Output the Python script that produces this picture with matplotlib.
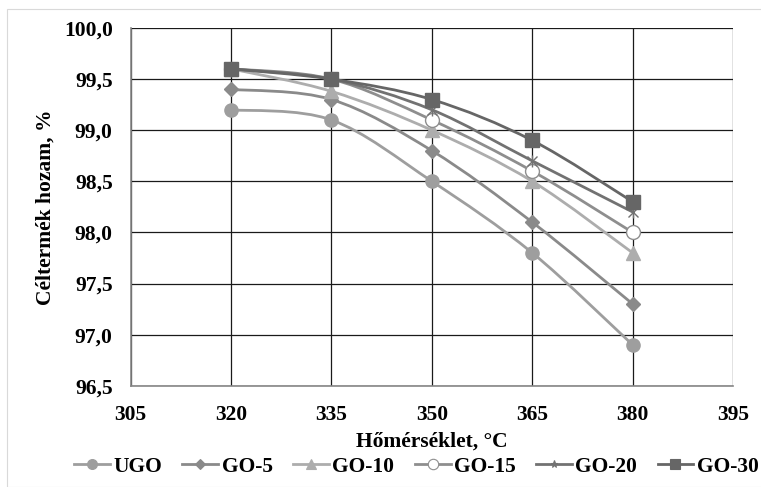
import numpy as np
import matplotlib
matplotlib.use("Agg")
import matplotlib.pyplot as plt
from matplotlib.path import Path
from matplotlib.patches import PathPatch, Rectangle
from matplotlib.lines import Line2D
from matplotlib.ticker import FuncFormatter

plt.rcParams['font.family'] = ['Liberation Serif', 'DejaVu Serif']

temps = [320, 335, 350, 365, 380]
series_names = ["UGO", "GO-5", "GO-10", "GO-15", "GO-20", "GO-30"]
ugo = [99.2, 99.1, 98.5, 97.8, 96.9]
go5 = [99.4, 99.3, 98.8, 98.1, 97.3]
go10 = [99.6, 99.38, 99.0, 98.5, 97.8]
go15 = [99.6, 99.5, 99.1, 98.6, 98.0]
go20 = [99.6, 99.5, 99.2, 98.7, 98.2]
go30 = [99.6, 99.5, 99.3, 98.9, 98.3]
values = [ugo, go5, go10, go15, go20, go30]

colors = ["#9e9e9e", "#8a8a8a", "#adadad", "#8e8e8e", "#727272", "#666666"]
markers = ["o", "D", "^", "o", "x", "s"]
msizes = [9.5, 7, 9.5, 10, 7, 9.5]
filled = [True, True, True, False, True, True]


def smooth_path(x, y):
    # Excel-style smoothing: cubic Bezier with control points from neighbours
    pts = np.column_stack([x, y]).astype(float)
    n = len(pts)
    verts = [pts[0]]
    codes = [Path.MOVETO]
    for i in range(n - 1):
        p0 = pts[max(i - 1, 0)]
        p1 = pts[i]
        p2 = pts[i + 1]
        p3 = pts[min(i + 2, n - 1)]
        c1 = p1 + (p2 - p0) / 6.0
        c2 = p2 - (p3 - p1) / 6.0
        verts += [c1, c2, p2]
        codes += [Path.CURVE4] * 3
    return Path(verts, codes)


fig = plt.figure(figsize=(7.61, 4.87), dpi=100)
fig.patches.append(Rectangle((7 / 761, 0), 1.0, 1 - 9 / 487, transform=fig.transFigure,
                             fill=False, edgecolor="#d9d9d9", linewidth=0.8))
ax = fig.add_axes([130.7 / 761, 1 - 385.7 / 487, (733 - 130.7) / 761, (385.7 - 28) / 487])

ax.set_xlim(305, 395)
ax.set_ylim(96.5, 100.0)
ax.set_xticks(np.arange(305, 396, 15))
ax.set_yticks(np.arange(96.5, 100.01, 0.5))
ax.yaxis.set_major_formatter(FuncFormatter(lambda v, p: f"{v:.1f}".replace(".", ",")))
ax.grid(True, color="#1a1a1a", linewidth=0.9)
ax.set_axisbelow(True)
ax.tick_params(length=0, labelsize=15.5)
ax.tick_params(axis="y", pad=13)
ax.tick_params(axis="x", pad=14)
for lab in ax.get_xticklabels() + ax.get_yticklabels():
    lab.set_fontweight("bold")
for side in ["left", "bottom"]:
    ax.spines[side].set_color("#868686")
    ax.spines[side].set_linewidth(1.2)
for side in ["top", "right"]:
    ax.spines[side].set_visible(False)

handles = []
for name, vals, c, m, ms, f in zip(series_names, values, colors, markers, msizes, filled):
    path = smooth_path(temps, vals)
    ax.add_patch(PathPatch(path, facecolor="none", edgecolor=c, linewidth=2.0, zorder=3))
    mfc = c if f else "white"
    if m == "x":
        ax.plot(temps, vals, linestyle="none", marker="x", markersize=ms, color=c,
                markeredgewidth=1.0, zorder=4)
        ax.plot(temps, vals, linestyle="none", marker="|", markersize=ms + 1, color=c,
                markeredgewidth=1.0, zorder=4)
    else:
        ax.plot(temps, vals, linestyle="none", marker=m, markersize=ms, markerfacecolor=mfc,
                markeredgecolor=c, markeredgewidth=1.0, zorder=4)
    handles.append(Line2D([], [], color=c, linewidth=2.0, marker="*" if m == "x" else m,
                          markersize=ms * 0.75, markerfacecolor=mfc, markeredgecolor=c,
                          markeredgewidth=0.8, label=name))

ax.set_ylabel("Céltermék hozam, %", fontsize=15.5, fontweight="bold", labelpad=6)
ax.set_xlabel("Hőmérséklet, °C", fontsize=15.5, fontweight="bold", labelpad=5)

fig.legend(handles=handles, loc="center", bbox_to_anchor=(0.547, 0.042), ncol=6,
           frameon=False, handlelength=1.67, handletextpad=0.15, columnspacing=0.95,
           borderpad=0, prop={"weight": "bold", "size": 15.5})

fig.savefig("out.png", dpi=100)
